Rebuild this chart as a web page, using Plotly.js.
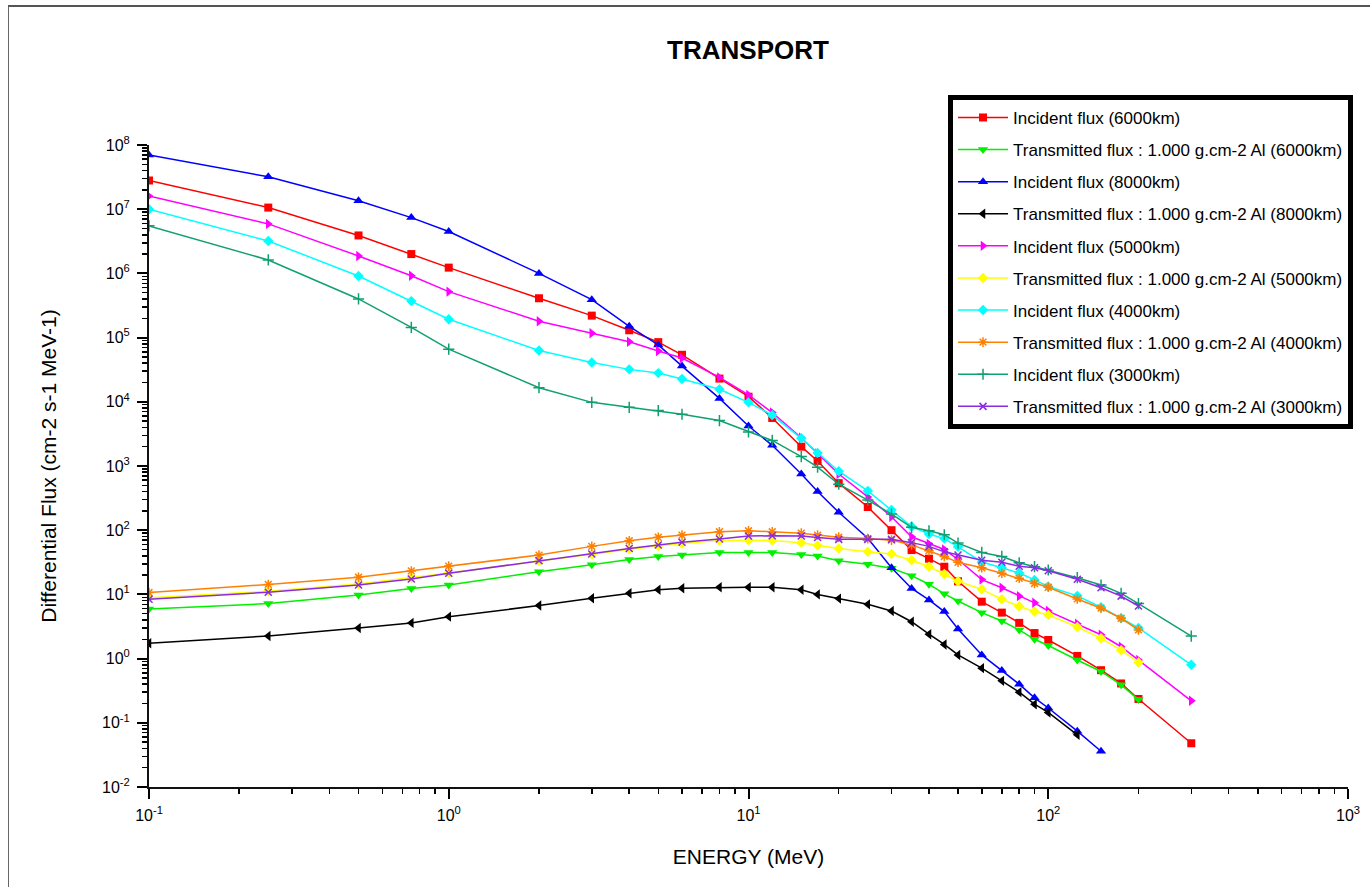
<!DOCTYPE html>
<html><head><meta charset="utf-8">
<script src="https://cdn.plot.ly/plotly-3.0.1.min.js"></script>
<style>
html,body{margin:0;padding:0;background:#fff;overflow:hidden}
#chart{width:1370px;height:887px}
#frame{position:absolute;left:8px;top:5px;width:1400px;height:1000px;border-left:1px solid #666;border-top:2px solid #555;pointer-events:none}
</style></head><body>
<div id="chart"></div><div id="frame"></div>
<script>
const energy = [0.1,0.25,0.5,0.75,1,2,3,4,5,6,8,10,12,15,17,20,25,30,35,40,45,50,60,70,80,90,100,125,150,175,200,300];

const incident6000 = [2.8e7,1.06e7,3.9e6,2.0e6,1.23e6,4.1e5,2.2e5,1.3e5,8.5e4,5.4e4,2.3e4,1.2e4,5.6e3,2.0e3,1.2e3,540,230,100,49,36,27,16,7.7,5.2,3.6,2.5,1.95,1.1,0.66,0.41,0.235,0.048];
const transmitted6000 = [5.9,7.2,9.8,12.4,14,22.6,29,35,39,41,45,45,45,42,39.5,33.5,29.5,25.6,19.6,14.4,10.2,7.9,5.2,3.85,2.8,2.0,1.6,0.95,0.63,0.39,0.23];
const incident8000 = [7e7,3.2e7,1.35e7,7.4e6,4.5e6,1.0e6,3.9e5,1.5e5,7.7e4,3.6e4,1.13e4,4.2e3,2.1e3,750,400,190,75,26,12.4,8.2,5.4,2.9,1.14,0.65,0.40,0.245,0.17,0.074,0.036];
const transmitted8000 = [1.73,2.25,3.0,3.6,4.5,6.7,8.7,10.4,11.8,12.5,12.9,12.9,12.9,11.8,10.0,8.6,7.0,5.5,3.75,2.4,1.66,1.14,0.71,0.45,0.30,0.195,0.145,0.065];
const incident5000 = [1.6e7,5.9e6,1.87e6,9.2e5,5.2e5,1.8e5,1.17e5,8.6e4,6.2e4,4.8e4,2.4e4,1.28e4,6.8e3,2.75e3,1.57e3,750,330,162,79,61,50,35,17,12.7,9.4,7.4,5.5,3.5,2.35,1.53,0.95,0.22];
const transmitted5000 = [8.9,11.2,14.5,18,21.5,33,42,51,57,62,69,70,69,64,58,52,46,42.5,34,27,20.8,16,12,8.4,6.5,5.4,4.8,3.1,2.07,1.35,0.87];
const incident4000 = [1.0e7,3.2e6,9.1e5,3.7e5,1.93e5,6.3e4,4.1e4,3.2e4,2.8e4,2.26e4,1.57e4,9.8e3,6.2e3,2.7e3,1.6e3,830,410,207,114,87,74,55,32,26,21.5,16.8,13.3,9.5,6.3,4.25,3.0,0.8];
const transmitted4000 = [10.7,14.3,18.5,23.2,27.6,41,56,68.5,77.6,84,94.5,98,94.5,90,84,78,74,70,59,48,39,31.6,26,21.3,17.8,14.8,12.9,8.5,6.1,4.25,2.8];
const incident3000 = [5.5e6,1.62e6,4.0e5,1.44e5,6.6e4,1.66e4,9.8e3,8.2e3,7.3e3,6.4e3,5.1e3,3.4e3,2.5e3,1.4e3,960,520,295,178,111,98,85,63,45,39,31,27,24,18.2,14,10.4,7.2,2.24];
const transmitted3000 = [8.4,10.8,14,17.4,21.3,33.5,42.6,52,59,65,73,81,82,81,77,72,72,72,64,56,46,41,34,31.6,27.5,26,23.4,17.2,12.7,9.4,6.6];

const seriesNames = [
  'Incident flux (6000km)',
  'Transmitted flux : 1.000 g.cm-2 Al (6000km)',
  'Incident flux (8000km)',
  'Transmitted flux : 1.000 g.cm-2 Al (8000km)',
  'Incident flux (5000km)',
  'Transmitted flux : 1.000 g.cm-2 Al (5000km)',
  'Incident flux (4000km)',
  'Transmitted flux : 1.000 g.cm-2 Al (4000km)',
  'Incident flux (3000km)',
  'Transmitted flux : 1.000 g.cm-2 Al (3000km)'
];
const seriesValues = [incident6000,transmitted6000,incident8000,transmitted8000,incident5000,transmitted5000,incident4000,transmitted4000,incident3000,transmitted3000];

const xTickVals = [0.1,1,10,100,1000];
const xTickText = ['10<sup>-1</sup>','10<sup>0</sup>','10<sup>1</sup>','10<sup>2</sup>','10<sup>3</sup>'];
const yTickVals = [1e-2,1e-1,1,10,100,1e3,1e4,1e5,1e6,1e7,1e8];
const yTickText = ['10<sup>-2</sup>','10<sup>-1</sup>','10<sup>0</sup>','10<sup>1</sup>','10<sup>2</sup>','10<sup>3</sup>','10<sup>4</sup>','10<sup>5</sup>','10<sup>6</sup>','10<sup>7</sup>','10<sup>8</sup>'];

const styles = [
  {color:'#ff0000', symbol:'square', size:8},
  {color:'#00f000', symbol:'triangle-down', size:9},
  {color:'#0000ff', symbol:'triangle-up', size:9},
  {color:'#000000', symbol:'triangle-left', size:9},
  {color:'#ff00ff', symbol:'triangle-right', size:9},
  {color:'#ffff00', symbol:'diamond', size:8},
  {color:'#00ffff', symbol:'diamond', size:8},
  {color:'#ff8000', symbol:'asterisk-open', size:8, open:true},
  {color:'#10a070', symbol:'cross-thin-open', size:8, open:true},
  {color:'#8a2be2', symbol:'x-thin-open', size:7, open:true}
];

const traces = seriesValues.map((vals, i) => {
  const s = styles[i];
  return {
    type:'scatter', mode:'lines+markers',
    x: energy.slice(0, vals.length), y: vals,
    name: seriesNames[i], legendgroup: 'g' + i,
    line:{color:s.color, width:1.5},
    marker: s.open
      ? {symbol:s.symbol, size:s.size, color:s.color, line:{color:s.color, width:1.5}}
      : {symbol:s.symbol, size:s.size, color:s.color, line:{width:0}}
  };
});

const font = 'Liberation Sans, Arial, sans-serif';
const axisCommon = {
  type:'log', ticks:'outside', ticklen:10, tickwidth:2, tickcolor:'#000',
  showline:true, linewidth:2, linecolor:'#111', showgrid:false, zeroline:false,
  tickfont:{size:16, family:font, color:'#000'},
  minor:{dtick:'D1', ticks:'outside', ticklen:5, tickwidth:1.5, tickcolor:'#000', showgrid:false}
};
const layout = {
  width:1370, height:887,
  paper_bgcolor:'#fff', plot_bgcolor:'#fff',
  font:{family:font, color:'#000'},
  margin:{l:149, r:22, t:145, b:100},
  title:{text:'<b>TRANSPORT</b>', font:{size:26, family:font, color:'#000'}, xref:'container', x:748/1370, xanchor:'center', yref:'container', y:1-50/887, yanchor:'middle'},
  xaxis:Object.assign({}, axisCommon, {
    range:[-1,3], tickmode:'array', tickvals:xTickVals, ticktext:xTickText, ticklabelstandoff:3,
    title:{text:'ENERGY (MeV)', font:{size:21, family:font, color:'#000'}, standoff:26}
  }),
  yaxis:Object.assign({}, axisCommon, {
    range:[-2,8], tickmode:'array', tickvals:yTickVals, ticktext:yTickText, ticklabelstandoff:4,
    title:{text:'Differential Flux (cm-2 s-1 MeV-1)', font:{size:21, family:font, color:'#000'}, standoff:40}
  }),
  showlegend:true,
  legend:{x:0.6664, y:1.078, xanchor:'left', yanchor:'top', bgcolor:'#fff', bordercolor:'#000', borderwidth:5,
    font:{size:17, family:font, color:'#000'}, itemwidth:50, tracegroupgap:7, traceorder:'grouped'}
};

Plotly.newPlot('chart', traces, layout, {displayModeBar:false, staticPlot:true});
</script></body></html>
